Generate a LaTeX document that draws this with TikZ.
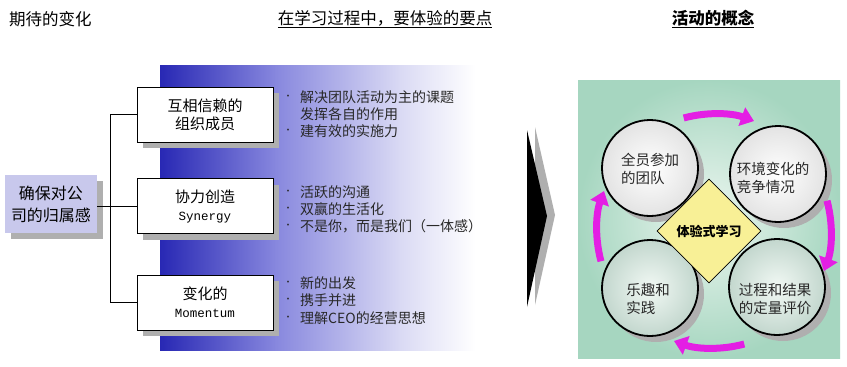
\documentclass[tikz,border=0pt]{standalone}
\usepackage{fontspec}
\setmainfont{Noto Sans CJK SC}
\newfontfamily\latinmono{Liberation Mono}
\usetikzlibrary{shapes.geometric,shadows,arrows.meta,calc}
\definecolor{bdark}{RGB}{40,40,180}
\definecolor{bmid}{RGB}{135,135,222}
\definecolor{blight}{RGB}{218,218,244}
\definecolor{lav}{RGB}{200,200,236}
\definecolor{shgray}{RGB}{175,175,175}
\definecolor{gouter}{RGB}{166,214,192}
\definecolor{ginner}{RGB}{236,246,240}
\definecolor{mag}{RGB}{228,30,228}
\definecolor{dia}{RGB}{248,240,150}
\definecolor{txtgray}{RGB}{40,40,40}
\tikzset{
  title/.style={font=\fontsize{16.5}{20}\selectfont, inner sep=0pt},
  wbox/.style={draw=black, line width=1pt, fill=white, minimum width=136pt, minimum height=55pt,
    align=center, font=\fontsize{15}{18}\selectfont,
    drop shadow={shadow xshift=6pt, shadow yshift=-6pt, fill=shgray, opacity=1}},
  lbox/.style={fill=lav, minimum width=92pt, minimum height=58pt, align=center,
    font=\fontsize{16}{22}\selectfont,
    drop shadow={shadow xshift=6pt, shadow yshift=-6pt, fill=shgray, opacity=1}},
  bul/.style={anchor=west, inner sep=0pt, font=\fontsize{14}{16}\selectfont, text=txtgray},
  dot/.style={inner sep=0pt, font=\fontsize{9}{10}\selectfont, text=txtgray},
  conn/.style={draw=black, line width=1pt},
  circ/.style={circle, draw=black, line width=1.8pt, minimum size=96pt, inner sep=0pt,
    drop shadow={shadow xshift=6pt, shadow yshift=-6pt, fill=shgray, opacity=1}},
  ctext/.style={align=left, inner sep=0pt, font=\fontsize{14.5}{18}\selectfont, text=txtgray},
  magarrow/.style={draw=mag, line width=7pt, -{Triangle[length=13pt,width=19pt]}},
}
\begin{document}
\begin{tikzpicture}[x=1pt,y=-1pt]
\useasboundingbox (0,0) rectangle (847,367);
\fill[white] (0,0) rectangle (847,367);

% titles
\node[title, anchor=west] (t1) at (9,19) {期待的变化};
\node[title] (t2) at (385,19) {\underline{在学习过程中，要体验的要点}};
\node[title] (t3) at (713,19) {\bfseries\underline{活动的概念}};

% blue gradient panel
\shade[left color=bdark, right color=bmid] (160,65) rectangle (276,350);
\shade[left color=bmid, right color=blight] (275,65) rectangle (401,350);
\shade[left color=blight, right color=white] (400,65) rectangle (476,350);

% left box and boxes
\node[lbox] (lb) at (51,204) {确保对公\\司的归属感};
\node[wbox] (b1) at (205,114.5) {互相信赖的\\组织成员};
\node[wbox] (b2) at (205,206) {协力创造\\{\latinmono\fontsize{12.5}{18}\selectfont Synergy}};
\node[wbox] (b3) at (205,302.5) {变化的\\{\latinmono\fontsize{12.5}{18}\selectfont Momentum}};

% connectors
\coordinate (jt) at (110,114.5);
\coordinate (jb) at (110,302.5);
\draw[conn] (lb.east |- b2.west) -- (b2.west);
\draw[conn] (b1.west) -- (jt) -- (jb) -- (b3.west);

% bullets
\node[dot] (d11) at (288,97) {•};
\node[bul] (p11) at (300,97) {解决团队活动为主的课题};
\node[bul] (p12) at (300,114) {发挥各自的作用};
\node[dot] (d13) at (288,131) {•};
\node[bul] (p13) at (300,131) {建有效的实施力};

\node[dot] (d21) at (288,192) {•};
\node[bul] (p21) at (300,192) {活跃的沟通};
\node[dot] (d22) at (288,209) {•};
\node[bul] (p22) at (300,209) {双赢的生活化};
\node[dot] (d23) at (288,226) {•};
\node[bul] (p23) at (300,226) {不是你，而是我们（一体感）};

\node[dot] (d31) at (288,283) {•};
\node[bul] (p31) at (300,283) {新的出发};
\node[dot] (d32) at (288,300) {•};
\node[bul] (p32) at (300,300) {携手并进};
\node[dot] (d33) at (288,318) {•};
\node[bul] (p33) at (300,318) {理解CEO的经营思想};

% chevron
\fill[shgray] (535,127) -- (555,215) -- (535,305) -- cycle;
\fill[black] (527,130) -- (547,216) -- (527,307) -- cycle;

% green panel
\shade[inner color=ginner, outer color=gouter] (578,80) rectangle (840,358);

% circles
\node[circ, shading=radial, inner color=white, outer color=gray!22] (c1) at (650,168) {};
\node[circ, shading=radial, inner color=white, outer color=gray!22] (c2) at (778,174) {};
\node[circ, shading=radial, inner color=ginner!70!white, outer color=gray!30!gouter!60!white] (c3) at (650,288) {};
\node[circ, shading=radial, inner color=ginner!70!white, outer color=gray!30!gouter!60!white] (c4) at (777,287) {};

\node[ctext] (c1t) at (650,169) {全员参加\\的团队};
\node[ctext] (c2t) at (773,178) {环境变化的\\竞争情况};
\node[ctext] (c3t) at (648,299) {乐趣和\\实践};
\node[ctext] (c4t) at (775,299) {过程和结果\\的定量评价};

% diamond
\node[diamond, draw=black, line width=0.8pt, fill=dia, minimum width=104pt, minimum height=104pt,
  inner sep=0pt, font=\fontsize{13}{15}\selectfont\bfseries] (dm) at (709,231) {体验式学习};

% magenta cycle arrows
\coordinate (ctr) at (714,231);
\draw[magarrow] ($(ctr)+(255:117)$) arc[start angle=255, end angle=290, radius=117];
\draw[magarrow] ($(ctr)+(345:117)$) arc[start angle=345, end angle=380, radius=117];
\draw[magarrow] ($(ctr)+(75:117)$) arc[start angle=75, end angle=110, radius=117];
\draw[magarrow] ($(ctr)+(165:117)$) arc[start angle=165, end angle=200, radius=117];
\end{tikzpicture}
\end{document}
